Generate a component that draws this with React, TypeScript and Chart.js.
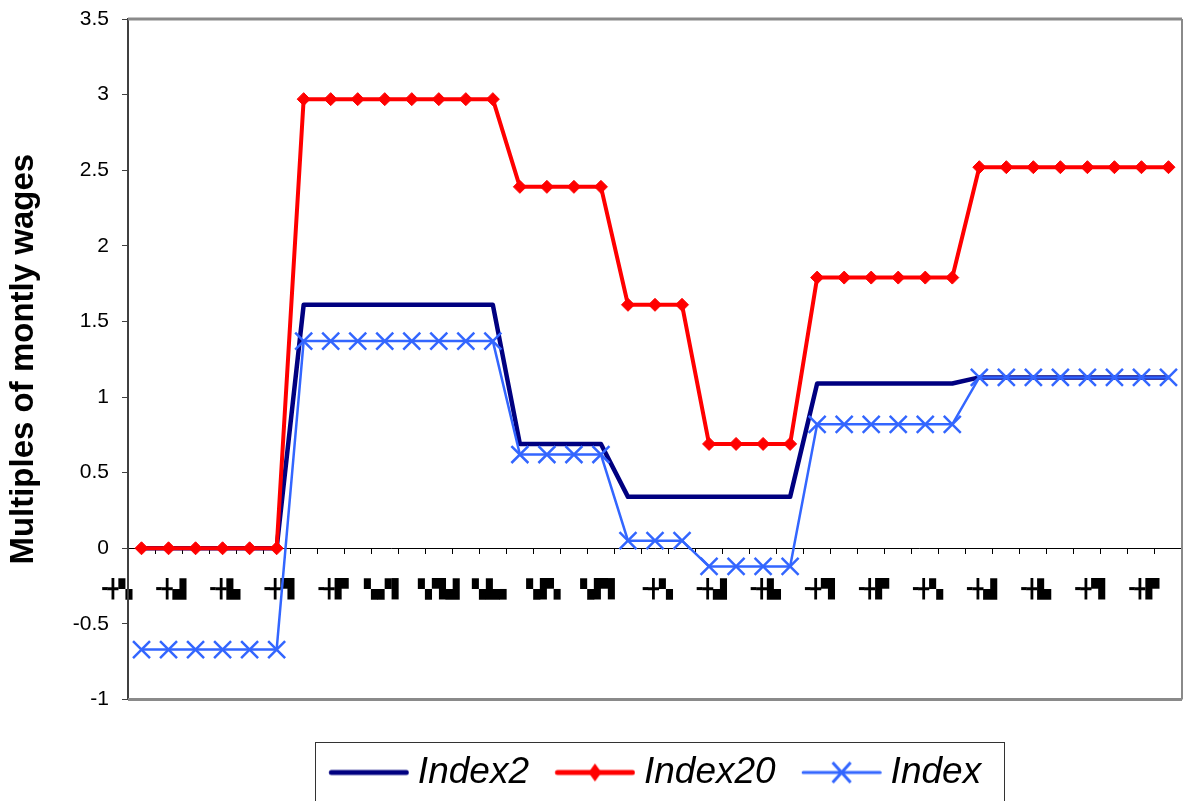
import React, { useEffect, useRef } from 'react';
import { Chart, registerables } from 'chart.js';

Chart.register(...registerables);

// Category labels along the zero line (only every second one is printed)
const categories = [
  '╺╋▚', '╺╋▞', '╺╋▟', '╺╋▞', '╺╋▙', '╺╋▚', '╺╋▜', '╺╋▟', '╺╋▛', '▚▞▘',
  '▚▞▌', '▚▜▖', '▚▜▟', '▚▙▘', '▚▙▖', '▚▛▘', '▚▛▖', '▚▛▌', '▚▛▌', '╺╋▚',
  '╺╋▚', '╺╋▞', '╺╋▟', '╺╋▙', '╺╋▙', '╺╋▜', '╺╋▜', '╺╋▛', '╺╋▛', '╺╋▚',
  '╺╋▚', '╺╋▟', '╺╋▟', '╺╋▙', '╺╋▙', '╺╋▜', '╺╋▜', '╺╋▛', '╺╋▛',
];

const index2 = [
  0, 0, 0, 0, 0, 0,
  1.61, 1.61, 1.61, 1.61, 1.61, 1.61, 1.61, 1.61,
  0.69, 0.69, 0.69, 0.69,
  0.34, 0.34, 0.34, 0.34, 0.34, 0.34, 0.34,
  1.09, 1.09, 1.09, 1.09, 1.09, 1.09,
  1.13, 1.13, 1.13, 1.13, 1.13, 1.13, 1.13, 1.13,
];

const index20 = [
  0, 0, 0, 0, 0, 0,
  2.97, 2.97, 2.97, 2.97, 2.97, 2.97, 2.97, 2.97,
  2.39, 2.39, 2.39, 2.39,
  1.61, 1.61, 1.61,
  0.69, 0.69, 0.69, 0.69,
  1.79, 1.79, 1.79, 1.79, 1.79, 1.79,
  2.52, 2.52, 2.52, 2.52, 2.52, 2.52, 2.52, 2.52,
];

const indexSeries = [
  -0.67, -0.67, -0.67, -0.67, -0.67, -0.67,
  1.37, 1.37, 1.37, 1.37, 1.37, 1.37, 1.37, 1.37,
  0.62, 0.62, 0.62, 0.62,
  0.05, 0.05, 0.05,
  -0.12, -0.12, -0.12, -0.12,
  0.82, 0.82, 0.82, 0.82, 0.82, 0.82,
  1.13, 1.13, 1.13, 1.13, 1.13, 1.13, 1.13, 1.13,
];

const yTicks = [-1, -0.5, 0, 0.5, 1, 1.5, 2, 2.5, 3, 3.5];

const seriesNames = ['Index2', 'Index20', 'Index'];

const FONT = "'Liberation Sans', Arial, sans-serif";
const NAVY = '#000080';
const RED = '#FF0000';
const BLUE = '#3366FF';

// Legend sample: a short line with the series marker in its middle.
// The canvas is a bit wider than the line so the line starts at the item's left edge.
const SAMPLE_W = 90;
const LINE_X0 = 9.75;
const LINE_X1 = 89.75;
function makeSample(color: string, width: number, marker: 'none' | 'diamond' | 'cross') {
  const c = document.createElement('canvas');
  c.width = SAMPLE_W;
  c.height = 26;
  const g = c.getContext('2d')!;
  const cy = 13;
  const mid = (LINE_X0 + LINE_X1) / 2;
  g.strokeStyle = color;
  g.fillStyle = color;
  g.lineWidth = width;
  g.lineCap = 'round';
  g.beginPath();
  g.moveTo(LINE_X0 + width / 2, cy);
  g.lineTo(LINE_X1 - width / 2, cy);
  g.stroke();
  if (marker === 'diamond') {
    g.beginPath();
    g.moveTo(mid, cy - 9);
    g.lineTo(mid + 6.5, cy);
    g.lineTo(mid, cy + 9);
    g.lineTo(mid - 6.5, cy);
    g.closePath();
    g.fill();
  } else if (marker === 'cross') {
    g.lineWidth = 3;
    g.lineCap = 'butt';
    g.beginPath();
    g.moveTo(mid - 9, cy - 10);
    g.lineTo(mid + 9, cy + 10);
    g.moveTo(mid + 9, cy - 10);
    g.lineTo(mid - 9, cy + 10);
    g.stroke();
  }
  return c;
}

// Grey frame on the top, right and bottom of the plot area
const framePlugin = {
  id: 'plotFrame',
  beforeDatasetsDraw(chart: any) {
    const { ctx, chartArea: a } = chart;
    ctx.save();
    ctx.strokeStyle = '#8a8a8a';
    ctx.lineWidth = 3;
    ctx.beginPath();
    ctx.moveTo(a.left, a.top);
    ctx.lineTo(a.right, a.top);
    ctx.moveTo(a.left, a.bottom);
    ctx.lineTo(a.right, a.bottom);
    ctx.stroke();
    ctx.lineWidth = 2;
    ctx.beginPath();
    ctx.moveTo(a.right, a.top);
    ctx.lineTo(a.right, a.bottom);
    ctx.stroke();
    ctx.restore();
  },
};

// Thin box around the legend entries
const legendBoxPlugin = {
  id: 'legendBox',
  afterDraw(chart: any) {
    const boxes = chart.legend?.legendHitBoxes;
    if (!boxes || !boxes.length) return;
    const first = boxes[0];
    const last = boxes[boxes.length - 1];
    const left = Math.round(first.left - 14) + 0.5;
    const right = Math.round(last.left + last.width + 23) + 0.5;
    const top = Math.round(first.top - 12) + 0.5;
    const { ctx } = chart;
    ctx.save();
    ctx.strokeStyle = '#333333';
    ctx.lineWidth = 1;
    ctx.strokeRect(left, top, right - left, chart.height - top + 10);
    ctx.restore();
  },
};

export default function App() {
  const canvasRef = useRef<HTMLCanvasElement | null>(null);

  useEffect(() => {
    const canvas = canvasRef.current;
    if (!canvas) return;

    const samples = [
      makeSample(NAVY, 5, 'none'),
      makeSample(RED, 5, 'diamond'),
      makeSample(BLUE, 3, 'cross'),
    ];

    const chart = new Chart(canvas, {
      type: 'line',
      data: {
        labels: categories,
        datasets: [
          {
            label: seriesNames[0],
            data: index2,
            borderColor: NAVY,
            backgroundColor: NAVY,
            borderWidth: 4.5,
            pointRadius: 0,
            pointHoverRadius: 0,
            tension: 0,
            borderJoinStyle: 'round',
            order: 3,
          },
          {
            label: seriesNames[1],
            data: index20,
            borderColor: RED,
            backgroundColor: RED,
            borderWidth: 4,
            pointStyle: 'rectRot',
            pointRadius: 6.5,
            pointHoverRadius: 6.5,
            pointBackgroundColor: RED,
            pointBorderColor: RED,
            pointBorderWidth: 1,
            tension: 0,
            borderJoinStyle: 'round',
            order: 2,
          },
          {
            label: seriesNames[2],
            data: indexSeries,
            borderColor: BLUE,
            backgroundColor: BLUE,
            borderWidth: 2.5,
            pointStyle: 'crossRot',
            pointRadius: 12,
            pointHoverRadius: 12,
            pointBorderColor: BLUE,
            pointBorderWidth: 2.5,
            tension: 0,
            order: 1,
          },
        ],
      },
      options: {
        responsive: false,
        animation: false,
        devicePixelRatio: 1,
        layout: { autoPadding: false, padding: { left: 0, top: 19, right: 1, bottom: 0 } },
        scales: {
          x: {
            type: 'category',
            position: { y: 0 },
            offset: true,
            afterFit: (s: any) => {
              s.paddingLeft = 0;
              s.paddingRight = 0;
            },
            grid: {
              display: true,
              drawOnChartArea: false,
              drawTicks: true,
              tickLength: 5,
              offset: true,
              color: '#000000',
              lineWidth: 1,
            },
            border: { display: true, color: '#000000', width: 1 },
            ticks: {
              autoSkip: false,
              maxRotation: 0,
              minRotation: 0,
              padding: 0,
              labelOffset: -27,
              color: '#000000',
              font: { family: "'DejaVu Sans'", size: 18, lineHeight: 4.11 },
              callback: (_v: any, i: number) => (i % 2 === 0 ? categories[i] : ''),
            },
          },
          y: {
            type: 'linear',
            position: 'left',
            min: yTicks[0],
            max: yTicks[yTicks.length - 1],
            afterFit: (s: any) => {
              s.width = 128;
              s.paddingLeft = 0;
              s.paddingRight = 0;
            },
            afterBuildTicks: (s: any) => {
              s.ticks = yTicks.map((v) => ({ value: v }));
            },
            grid: {
              drawOnChartArea: false,
              drawTicks: true,
              tickLength: 6,
              color: '#404040',
              lineWidth: 1,
            },
            border: { display: true, color: '#404040', width: 2 },
            ticks: {
              padding: 13,
              color: '#000000',
              font: { family: FONT, size: 21, lineHeight: 0.5 },
              callback: (v: any) => String(v),
            },
            title: {
              display: true,
              text: 'Multiples of montly wages',
              color: '#000000',
              font: { family: FONT, size: 33, weight: 'bold' },
              padding: { top: 4, bottom: 0 },
            },
          },
        },
        plugins: {
          tooltip: { enabled: false },
          subtitle: {
            display: true,
            text: '',
            position: 'bottom',
            weight: 500,
            fullSize: false,
            font: { size: 28.5, lineHeight: 1 },
            padding: 0,
          },
          legend: {
            position: 'bottom',
            fullSize: false,
            maxHeight: 75.5,
            labels: {
              usePointStyle: true,
              pointStyleWidth: 70.5,
              padding: 26,
              color: '#000000',
              font: { family: FONT, size: 37, style: 'italic' },
              sort: (a: any, b: any) => a.datasetIndex - b.datasetIndex,
              generateLabels: (c: any) =>
                Chart.defaults.plugins.legend.labels
                  .generateLabels(c)
                  .map((item: any) => ({ ...item, pointStyle: samples[item.datasetIndex] })),
            },
          },
        },
      } as any,
      plugins: [framePlugin, legendBoxPlugin],
    });

    return () => chart.destroy();
  }, []);

  return (
    <div
      style={{
        position: 'fixed',
        left: 0,
        top: 0,
        width: 1183,
        height: 801,
        background: '#ffffff',
      }}
    >
      <canvas ref={canvasRef} width={1183} height={801} style={{ display: 'block' }} />
    </div>
  );
}
